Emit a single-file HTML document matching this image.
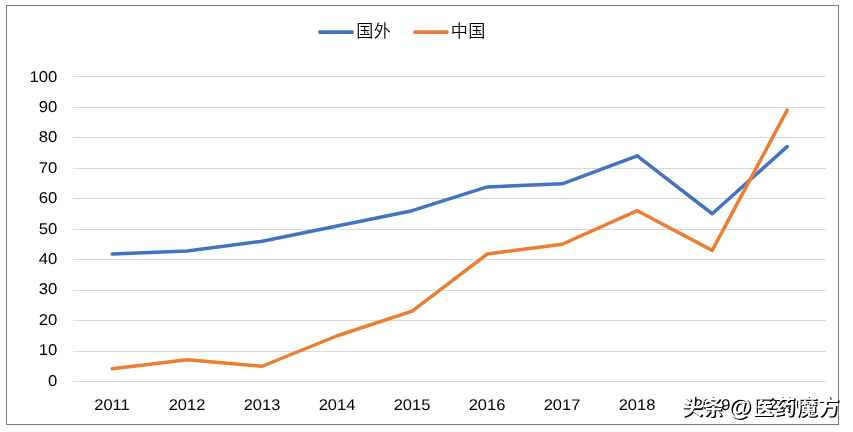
<!DOCTYPE html>
<html lang="zh-CN">
<head>
<meta charset="utf-8">
<title>国外 / 中国</title>
<style>
html,body{margin:0;padding:0;background:#fff;}
body{width:853px;height:432px;overflow:hidden;position:relative;font-family:"Liberation Sans","Noto Sans CJK SC",sans-serif;}
svg{display:block;position:absolute;left:0;top:0;}
.ax text{font-family:"Liberation Sans",sans-serif;font-size:15.6px;fill:#000;text-rendering:geometricPrecision;}
.ax text.xl{font-size:15.4px;}
.lg text{font-family:"Liberation Sans","Noto Sans CJK SC",sans-serif;font-size:17.1px;font-weight:350;fill:#000;letter-spacing:0.4px;}
.grid line{stroke:#d9d9d9;stroke-width:1;}
.wm{position:absolute;left:681.8px;top:390.3px;height:32px;white-space:nowrap;font-family:"Liberation Sans","Noto Sans CJK SC",sans-serif;font-size:21px;line-height:32px;font-weight:700;color:#fff;text-shadow:1px 1px 0 #000, 1.4px 1.4px 0.3px #000;}
.wm span{display:inline-block;position:relative;}
.wm .at{font-size:23.5px;top:1px;margin-left:-1.4px;}
.wm .b{letter-spacing:0.85px;margin-left:1.3px;}
</style>
</head>
<body>
<svg width="853" height="432" viewBox="0 0 853 432">
<rect x="0" y="0" width="853" height="432" fill="#fff"/>
<rect x="6.5" y="5.5" width="832" height="419" fill="#fff" stroke="#7a7a7a" stroke-width="1"/>
<g class="grid" shape-rendering="crispEdges">
<line x1="72.5" x2="825.5" y1="381.5" y2="381.5"/>
<line x1="72.5" x2="825.5" y1="351.0" y2="351.0"/>
<line x1="72.5" x2="825.5" y1="320.5" y2="320.5"/>
<line x1="72.5" x2="825.5" y1="290.0" y2="290.0"/>
<line x1="72.5" x2="825.5" y1="259.5" y2="259.5"/>
<line x1="72.5" x2="825.5" y1="229.0" y2="229.0"/>
<line x1="72.5" x2="825.5" y1="198.5" y2="198.5"/>
<line x1="72.5" x2="825.5" y1="168.0" y2="168.0"/>
<line x1="72.5" x2="825.5" y1="137.5" y2="137.5"/>
<line x1="72.5" x2="825.5" y1="107.0" y2="107.0"/>
<line x1="72.5" x2="825.5" y1="76.5" y2="76.5"/>
</g>
<g class="lg">
<rect x="318.3" y="30.15" width="35.4" height="3.8" rx="1.3" fill="#4472c4"/>
<text x="356.3" y="37.3">国外</text>
<rect x="413.3" y="30.15" width="35.3" height="3.8" rx="1.3" fill="#ed7d31"/>
<text x="450.8" y="37.3">中国</text>
</g>
<g class="ax">
<text transform="translate(57.4 385.60) scale(1.07 1)" text-anchor="end">0</text>
<text transform="translate(57.4 355.20) scale(1.07 1)" text-anchor="end">10</text>
<text transform="translate(57.4 324.80) scale(1.07 1)" text-anchor="end">20</text>
<text transform="translate(57.4 294.40) scale(1.07 1)" text-anchor="end">30</text>
<text transform="translate(57.4 264.00) scale(1.07 1)" text-anchor="end">40</text>
<text transform="translate(57.4 233.60) scale(1.07 1)" text-anchor="end">50</text>
<text transform="translate(57.4 203.20) scale(1.07 1)" text-anchor="end">60</text>
<text transform="translate(57.4 172.80) scale(1.07 1)" text-anchor="end">70</text>
<text transform="translate(57.4 142.40) scale(1.07 1)" text-anchor="end">80</text>
<text transform="translate(57.4 112.00) scale(1.07 1)" text-anchor="end">90</text>
<text transform="translate(57.4 81.60) scale(1.07 1)" text-anchor="end">100</text>
<text class="xl" transform="translate(112.00 409.75) scale(1.07 1)" text-anchor="middle">2011</text>
<text class="xl" transform="translate(187.00 409.75) scale(1.07 1)" text-anchor="middle">2012</text>
<text class="xl" transform="translate(262.00 409.75) scale(1.07 1)" text-anchor="middle">2013</text>
<text class="xl" transform="translate(337.00 409.75) scale(1.07 1)" text-anchor="middle">2014</text>
<text class="xl" transform="translate(412.00 409.75) scale(1.07 1)" text-anchor="middle">2015</text>
<text class="xl" transform="translate(487.00 409.75) scale(1.07 1)" text-anchor="middle">2016</text>
<text class="xl" transform="translate(562.00 409.75) scale(1.07 1)" text-anchor="middle">2017</text>
<text class="xl" transform="translate(637.00 409.75) scale(1.07 1)" text-anchor="middle">2018</text>
<text class="xl" transform="translate(712.00 409.75) scale(1.07 1)" text-anchor="middle">2019</text>
<text class="xl" transform="translate(787.00 409.75) scale(1.07 1)" text-anchor="middle">2020</text>
</g>
<polyline points="112.2,254.01 187.2,250.96 262.2,241.20 337.2,225.95 412.2,210.70 487.2,186.91 562.2,183.86 637.2,155.80 712.2,213.75 787.2,146.65" fill="none" stroke="#4472c4" stroke-width="3.5" stroke-linecap="round" stroke-linejoin="round"/>
<polyline points="112.2,368.84 187.2,359.85 262.2,366.25 337.2,335.75 412.2,311.05 487.2,254.01 562.2,244.25 637.2,210.70 712.2,250.35 787.2,110.05" fill="none" stroke="#ed7d31" stroke-width="3.5" stroke-linecap="round" stroke-linejoin="round"/>
</svg>
<div class="wm"><span class="a">头条</span> <span class="at">@</span><span class="b">医药魔方</span></div>
</body>
</html>
